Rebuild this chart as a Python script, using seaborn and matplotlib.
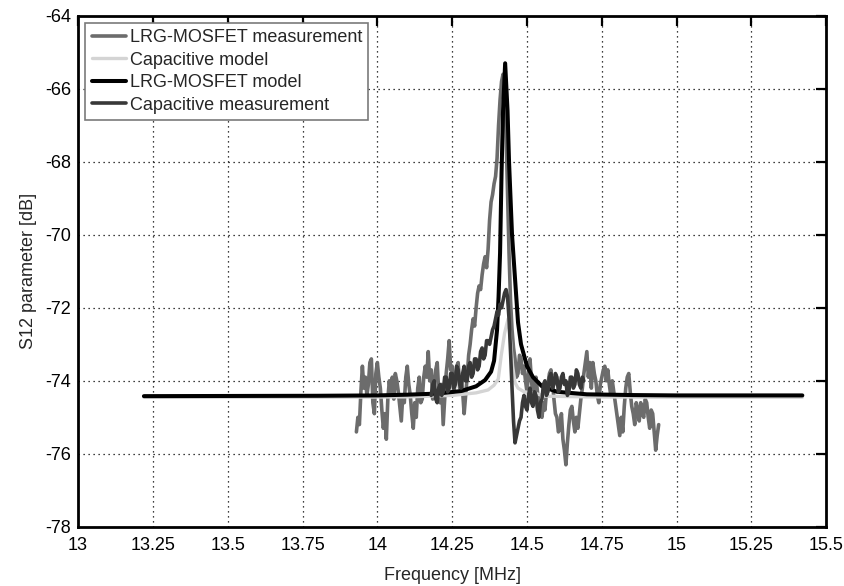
import matplotlib
matplotlib.use("Agg")
import matplotlib.pyplot as plt
import seaborn as sns
import numpy as np

# LRG-MOSFET measurement, 5 kHz sweep steps from 13.93 MHz
lrg_meas_start, lrg_meas_step = 13.93, 0.005
lrg_meas_db = [
    -75.4, -75.0, -75.2, -74.3, -73.6, -74.2, -73.9, -74.4, -74.1, -73.5,
    -73.4, -74.6, -74.9, -73.8, -73.5, -73.9, -74.2, -74.8, -75.3, -74.9,
    -75.6, -74.5, -74.0, -74.4, -73.9, -74.5, -73.8, -74.0, -74.3, -74.7,
    -75.1, -74.4, -74.6, -73.9, -73.6, -74.1, -74.4, -74.9, -75.3, -74.6,
    -75.0, -74.2, -73.9, -74.6, -74.5, -73.9, -73.6, -73.9, -73.2, -74.0,
    -73.7, -74.5, -74.1, -73.7, -73.5, -74.3, -74.6, -74.1, -75.2, -74.5,
    -73.8, -73.4, -72.9, -73.7, -73.6, -74.3, -74.1, -73.6, -73.5, -74.2,
    -73.9, -74.3, -74.9, -74.4, -73.9, -73.3, -73.0, -72.6, -72.3, -72.5,
    -72.0, -71.6, -71.4, -71.5, -71.1, -70.8, -70.6, -70.9, -70.4, -69.6,
    -69.1, -68.9, -68.6, -68.4, -67.9, -67.0, -66.3, -65.8, -65.6, -65.9,
    -67.2, -68.8, -70.5, -71.8, -72.6, -73.1, -73.4, -73.9, -73.8, -73.3,
    -73.4, -73.8, -73.6, -74.0, -74.3, -73.8, -73.4, -74.0, -74.4, -74.1,
    -73.9, -74.3, -74.6, -74.9, -75.0, -74.6, -74.8, -74.3, -74.1, -73.8,
    -73.7, -74.0, -74.5, -74.9, -75.0, -75.4, -75.3, -74.9, -75.6, -75.9,
    -76.3, -75.7, -75.2, -74.8, -74.7, -75.1, -75.4, -75.0, -75.3, -74.9,
    -74.5, -74.2, -73.8, -73.5, -73.2, -73.9, -73.5, -74.2, -73.5, -73.8,
    -74.0, -74.4, -74.6, -74.1, -73.9, -73.7, -73.6, -74.0, -73.7, -74.1,
    -74.4, -74.0, -74.3, -74.6, -74.9, -75.2, -75.5, -75.0, -75.4, -74.7,
    -74.2, -73.9, -73.8, -74.3, -74.7, -74.9, -75.2, -74.6, -74.8, -75.1,
    -74.6, -74.9, -75.0, -74.5, -74.6, -75.0, -75.3, -74.8, -74.9, -75.4,
    -75.9, -75.5, -75.2,
]

# Capacitive measurement, 5 kHz steps from 14.18 MHz
cap_meas_start, cap_meas_step = 14.18, 0.005
cap_meas_db = [
    -74.4, -74.1, -74.0, -74.5, -74.6, -74.2, -74.1, -74.4, -74.3, -73.9,
    -73.9, -74.3, -74.2, -73.8, -73.8, -74.2, -74.1, -73.6, -73.7, -74.1,
    -74.2, -73.8, -73.6, -74.0, -74.0, -73.6, -73.5, -73.9, -73.8, -73.4,
    -73.4, -73.7, -73.6, -73.2, -73.1, -73.4, -73.3, -72.9, -72.9, -73.0,
    -72.8, -72.6, -72.5, -72.3, -72.1, -72.2, -71.9, -72.0, -71.8, -71.6,
    -71.5, -71.7, -72.3, -73.2, -74.2, -75.1, -75.7, -75.5, -75.3, -75.1,
    -75.0, -74.6, -74.4, -74.7, -74.8, -74.4, -74.2, -74.6, -74.7, -74.3,
    -74.4, -74.8, -75.0, -74.6, -74.5, -74.1, -74.0, -74.4, -74.3, -73.9,
    -73.8, -74.2, -74.1, -73.8, -73.9, -74.3, -74.2, -73.9, -73.8, -74.1,
    -74.0, -74.4, -74.3, -73.9, -73.9, -74.2, -74.1, -73.7, -73.8, -74.1,
    -74.2, -73.9, -74.0,
]

# LRG-MOSFET model
lrg_model_f = [13.22, 13.80, 14.00, 14.10, 14.20, 14.28, 14.33, 14.36, 14.38,
               14.39, 14.40, 14.405, 14.41, 14.415, 14.42, 14.427, 14.435,
               14.44, 14.45, 14.46, 14.47, 14.48, 14.49, 14.50, 14.52, 14.55,
               14.60, 14.70, 14.85, 15.00, 15.42]
lrg_model_db = [-74.42, -74.41, -74.40, -74.38, -74.35, -74.28, -74.15, -73.98,
                -73.75, -73.45, -72.6, -71.7, -70.5, -68.3, -66.6, -65.3,
                -66.6, -68.0, -70.0, -71.2, -72.4, -73.0, -73.3, -73.6, -73.9,
                -74.15, -74.3, -74.37, -74.39, -74.4, -74.4]

# Capacitive model
cap_model_f = [13.22, 13.80, 14.10, 14.25, 14.33, 14.37, 14.39, 14.404, 14.414,
               14.425, 14.437, 14.445, 14.452, 14.46, 14.47, 14.49, 14.53,
               14.56, 14.70, 15.00, 15.42]
cap_model_db = [-74.45, -74.45, -74.44, -74.40, -74.33, -74.25, -74.12, -73.95,
                -73.3, -72.7, -72.3, -72.9, -73.6, -74.05, -74.2, -74.3, -74.35,
                -74.42, -74.44, -74.45, -74.45]

x_ticks = [13, 13.25, 13.5, 13.75, 14, 14.25, 14.5, 14.75, 15, 15.25, 15.5]
x_tick_labels = ["13", "13.25", "13.5", "13.75", "14", "14.25", "14.5",
                 "14.75", "15", "15.25", "15.5"]
y_ticks = [-78, -76, -74, -72, -70, -68, -66, -64]

sns.set_style("white")
plt.rcParams["font.family"] = ["Liberation Sans", "DejaVu Sans"]
plt.rcParams["axes.unicode_minus"] = False

fig, ax = plt.subplots(figsize=(8.44, 5.86), dpi=100)
fig.subplots_adjust(left=0.0925, right=0.979, top=0.973, bottom=0.101)

f_lrg = np.round(lrg_meas_start + lrg_meas_step * np.arange(len(lrg_meas_db)), 4)
f_cap = np.round(cap_meas_start + cap_meas_step * np.arange(len(cap_meas_db)), 4)

sns.lineplot(x=f_lrg, y=lrg_meas_db, ax=ax, color="#6c6c6c", lw=2.6,
             label="LRG-MOSFET measurement")
sns.lineplot(x=cap_model_f, y=cap_model_db, ax=ax, color="#d4d4d4", lw=2.4,
             label="Capacitive model")
sns.lineplot(x=lrg_model_f, y=lrg_model_db, ax=ax, color="black", lw=2.9,
             label="LRG-MOSFET model")
sns.lineplot(x=f_cap, y=cap_meas_db, ax=ax, color="#383838", lw=2.6,
             label="Capacitive measurement")

ax.set_xlim(13, 15.5)
ax.set_ylim(-78, -64)
ax.set_xticks(x_ticks)
ax.set_xticklabels(x_tick_labels)
ax.set_yticks(y_ticks)
ax.tick_params(direction="in", length=7, width=1.6, top=True, right=True,
               labelsize=13, colors="black")
ax.tick_params(axis="x", pad=7)
ax.tick_params(axis="y", pad=5)
ax.grid(True, color="black", linestyle=(0, (1, 3)), linewidth=0.9)
for s in ax.spines.values():
    s.set_visible(True)
    s.set_color("black")
    s.set_linewidth(2)

ax.set_xlabel("Frequency [MHz]", fontsize=13, labelpad=10)
ax.set_ylabel("S12 parameter [dB]", fontsize=13, labelpad=6)

leg = ax.legend(loc="upper left", fontsize=13, frameon=True, fancybox=False,
                handlelength=1.9, handletextpad=0.2, labelspacing=0.3,
                borderpad=0.35, borderaxespad=0.4, framealpha=1)
leg.get_frame().set_edgecolor("#7a7a7a")
leg.get_frame().set_linewidth(1.2)

fig.savefig("out.png", dpi=100)
